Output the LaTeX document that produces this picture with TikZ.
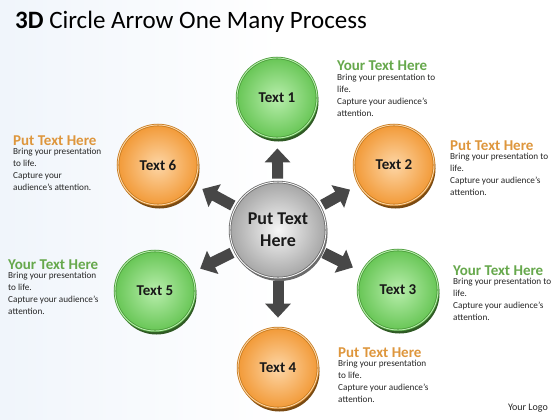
\documentclass[tikz,border=0pt]{standalone}
\usepackage{fontspec}
\setmainfont{Carlito}
\usepackage{tikz}
\usetikzlibrary{positioning,arrows.meta}

\definecolor{greenin}{HTML}{B8EEAC}
\definecolor{greenout}{HTML}{68C656}
\definecolor{greenrim}{HTML}{4A9A3A}
\definecolor{greenbase}{HTML}{2F5A24}
\definecolor{orangein}{HTML}{FDD6A6}
\definecolor{orangeout}{HTML}{F29A38}
\definecolor{orangerim}{HTML}{C67A1E}
\definecolor{orangebase}{HTML}{7A4A12}
\definecolor{hubin}{HTML}{F6F6F6}
\definecolor{hubout}{HTML}{A6A6A6}
\definecolor{hubrim}{HTML}{6A6A6A}
\definecolor{arrowgray}{HTML}{474747}
\definecolor{headgreen}{HTML}{66A84C}
\definecolor{headorange}{HTML}{DE963C}
\definecolor{bgblue}{HTML}{F0F5FB}

\tikzset{
  ball/.style={circle, minimum size=80pt, inner sep=0pt, shading=radial, line width=0.8pt,
    double distance=0.9pt, font=\fontsize{15}{17}\selectfont\bfseries, text=black!90},
  greenball/.style={ball, inner color=greenin, outer color=greenout, draw=greenrim, double=greenin,
    preaction={fill=greenbase, transform canvas={xshift=1.5pt, yshift=-3.5pt}}},
  orangeball/.style={ball, inner color=orangein, outer color=orangeout, draw=orangerim, double=orangein,
    preaction={fill=orangebase, transform canvas={xshift=1.5pt, yshift=-3.5pt}}},
  hubball/.style={ball, minimum size=96pt, inner color=hubin, outer color=hubout, draw=hubrim, double=hubin,
    align=center, font=\fontsize{18}{22}\selectfont\bfseries,
    preaction={fill=hubrim, transform canvas={xshift=1.5pt, yshift=-3pt}}},
  spoke/.style={draw=arrowgray, line width=11pt, -{Triangle[width=25pt,length=14pt]},
    shorten <=3pt, shorten >=10pt},
  headtxt/.style={inner sep=0pt, font=\fontsize{15}{17}\selectfont\bfseries},
  bodytxt/.style={inner sep=0pt, align=left, font=\fontsize{9.2}{12}\selectfont, text=black!85}
}

\begin{document}
\begin{tikzpicture}[x=1pt, y=-1pt]

\useasboundingbox (0,0) rectangle (560,420);
\shade[left color=bgblue, right color=white, middle color=white] (0,0) rectangle (560,420);

\node[font=\fontsize{25}{28}\selectfont, anchor=base west, inner sep=0pt] (title) at (15,29) {\textbf{3D} Circle Arrow One Many Process};

\node[hubball] (hub) at (278,230) {Put Text\\Here};

\node[greenball] (c1) at (277,98) {Text 1};
\node[orangeball] (c2) at (394,165) {Text 2};
\node[greenball] (c3) at (398,290) {Text 3};
\node[orangeball] (c4) at (278,368) {Text 4};
\node[greenball] (c5) at (155,291) {Text 5};
\node[orangeball] (c6) at (158,165) {Text 6};

\draw[spoke] (hub) -- (c1);
\draw[spoke] (hub) -- (c2);
\draw[spoke] (hub) -- (c3);
\draw[spoke] (hub) -- (c4);
\draw[spoke] (hub) -- (c5);
\draw[spoke] (hub) -- (c6);

\node[headtxt, text=headgreen, anchor=base west] (h1) at (337,71) {Your Text Here};
\node[bodytxt, below=3pt of h1.south west, anchor=north west] (b1) {Bring your presentation to\\life.\\Capture your audience's\\attention.};

\node[headtxt, text=headorange, anchor=base west] (h2) at (450,150) {Put Text Here};
\node[bodytxt, below=3pt of h2.south west, anchor=north west] (b2) {Bring your presentation to\\life.\\Capture your audience's\\attention.};

\node[headtxt, text=headgreen, anchor=base west] (h3) at (453,275) {Your Text Here};
\node[bodytxt, below=3pt of h3.south west, anchor=north west] (b3) {Bring your presentation to\\life.\\Capture your audience's\\attention.};

\node[headtxt, text=headorange, anchor=base west] (h4) at (338,357) {Put Text Here};
\node[bodytxt, below=3pt of h4.south west, anchor=north west] (b4) {Bring your presentation\\to life.\\Capture your audience's\\attention.};

\node[headtxt, text=headgreen, anchor=base west] (h5) at (8,269) {Your Text Here};
\node[bodytxt, below=3pt of h5.south west, anchor=north west] (b5) {Bring your presentation\\to life.\\Capture your audience's\\attention.};

\node[headtxt, text=headorange, anchor=base west] (h6) at (13,145) {Put Text Here};
\node[bodytxt, below=3pt of h6.south west, anchor=north west] (b6) {Bring your presentation\\to life.\\Capture your\\audience's attention.};

\node[font=\fontsize{10}{12}\selectfont, anchor=base east, inner sep=0pt, text=black!85] (logo) at (548,410) {Your Logo};

\end{tikzpicture}
\end{document}
